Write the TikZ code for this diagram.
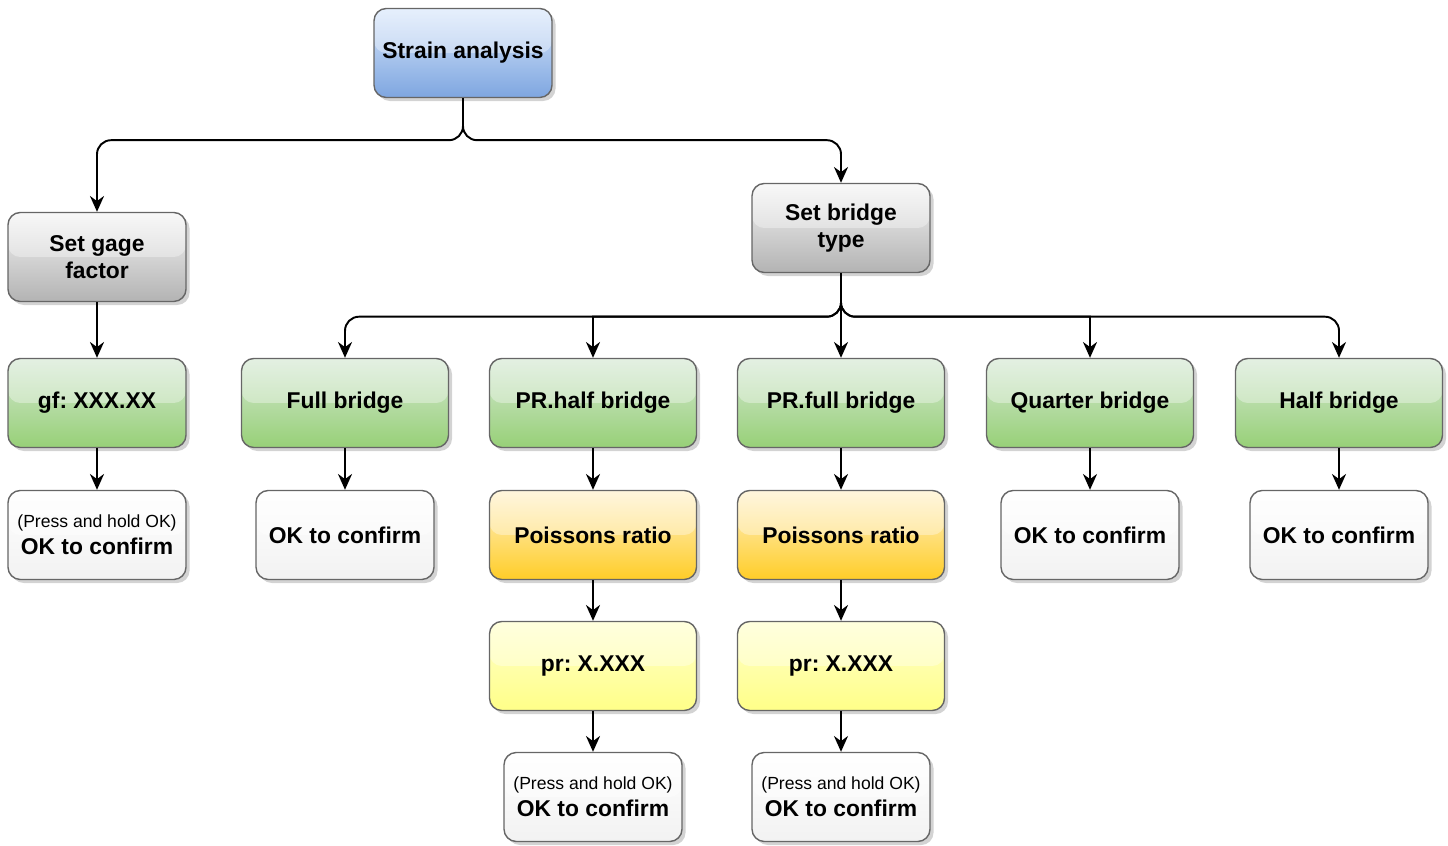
\documentclass[tikz,border=0pt]{standalone}
\usepackage{fontspec}
\setmainfont{Liberation Sans}
\usetikzlibrary{arrows.meta,shadows}
\frenchspacing

\definecolor{blueTop}{HTML}{DAE8FC}
\definecolor{blueBot}{HTML}{7EA6E0}
\definecolor{grayTop}{HTML}{F5F5F5}
\definecolor{grayBot}{HTML}{B3B3B3}
\definecolor{greenTop}{HTML}{D5E8D4}
\definecolor{greenBot}{HTML}{97D077}
\definecolor{orangeTop}{HTML}{FFF2CC}
\definecolor{orangeBot}{HTML}{FFCD28}
\definecolor{yellowTop}{HTML}{FFFFCC}
\definecolor{yellowBot}{HTML}{FFFF88}
\definecolor{whiteBot}{HTML}{F2F2F2}
\definecolor{edgeGray}{HTML}{666666}

\tikzset{
    box/.style={rounded corners=7pt, draw=edgeGray, line width=0.8pt,
        minimum width=3.56cm, minimum height=1.78cm, align=center,
        font=\bfseries\fontsize{13}{15.5}\selectfont,
        drop shadow={shadow xshift=2pt, shadow yshift=-2pt, opacity=0.35},
        path picture={\fill[white, opacity=0.35] (path picture bounding box.north west) rectangle (path picture bounding box.east);}},
    wide/.style={box, minimum width=4.14cm},
    bluebox/.style={box, top color=blueTop, bottom color=blueBot},
    graybox/.style={box, top color=grayTop, bottom color=grayBot},
    greenbox/.style={wide, top color=greenTop, bottom color=greenBot},
    orangebox/.style={wide, top color=orangeTop, bottom color=orangeBot},
    yellowbox/.style={wide, top color=yellowTop, bottom color=yellowBot},
    okbox/.style={box, top color=white, bottom color=whiteBot},
    flow/.style={line width=1.1pt, rounded corners=8pt, -{Stealth[length=9pt, width=8pt]}}
}
\newcommand{\hold}{{\normalfont\fontsize{10}{12}\selectfont (Press and hold OK)}}

\begin{document}
\begin{tikzpicture}
    \useasboundingbox (0,0) rectangle (28.96,16.92);

    % Top levels
    \node[bluebox] (strain) at (9.26,15.86) {Strain analysis};
    \node[graybox] (gage) at (1.94,11.78) {Set gage\\factor};
    \node[graybox] (bridge) at (16.82,12.36) {Set bridge\\type};

    % Gage factor branch
    \node[greenbox, minimum width=3.56cm] (gf) at (1.94,8.86) {gf: XXX.XX};
    \node[okbox] (gfok) at (1.94,6.22) {\hold\\OK to confirm};

    % Bridge types
    \node[greenbox] (full) at (6.90,8.86) {Full bridge};
    \node[greenbox] (prhalf) at (11.86,8.86) {PR.half bridge};
    \node[greenbox] (prfull) at (16.82,8.86) {PR.full bridge};
    \node[greenbox] (quarter) at (21.80,8.86) {Quarter bridge};
    \node[greenbox] (half) at (26.78,8.86) {Half bridge};

    \node[okbox] (fullok) at (6.90,6.22) {OK to confirm};
    \node[okbox] (quarterok) at (21.80,6.22) {OK to confirm};
    \node[okbox] (halfok) at (26.78,6.22) {OK to confirm};

    % Poissons ratio steps
    \node[orangebox] (prhalfpoi) at (11.86,6.22) {Poissons ratio};
    \node[orangebox] (prfullpoi) at (16.82,6.22) {Poissons ratio};
    \node[yellowbox] (prhalfpr) at (11.86,3.60) {pr: X.XXX};
    \node[yellowbox] (prfullpr) at (16.82,3.60) {pr: X.XXX};
    \node[okbox] (prhalfok) at (11.86,0.98) {\hold\\OK to confirm};
    \node[okbox] (prfullok) at (16.82,0.98) {\hold\\OK to confirm};

    % Connectors
    \draw[flow] (strain.south) -- ++(0,-0.84) -| (gage.north);
    \draw[flow] (strain.south) -- ++(0,-0.84) -| (bridge.north);
    \foreach \t in {full,half}
        \draw[flow] (bridge.south) -- ++(0,-0.87) -| (\t.north);
    \draw[flow] (bridge.south) -- ++(0,-0.87) -- ++(-1,0) [sharp corners] -| (prhalf.north);
    \draw[flow] (bridge.south) -- ++(0,-0.87) -- ++(1,0) [sharp corners] -| (quarter.north);
    \draw[flow] (bridge) -- (prfull);

    \draw[flow] (gage) -- (gf);
    \draw[flow] (gf) -- (gfok);
    \draw[flow] (full) -- (fullok);
    \draw[flow] (quarter) -- (quarterok);
    \draw[flow] (half) -- (halfok);
    \foreach \t in {prhalf,prfull} {
        \draw[flow] (\t) -- (\t poi);
        \draw[flow] (\t poi) -- (\t pr);
        \draw[flow] (\t pr) -- (\t ok);
    }
\end{tikzpicture}
\end{document}
